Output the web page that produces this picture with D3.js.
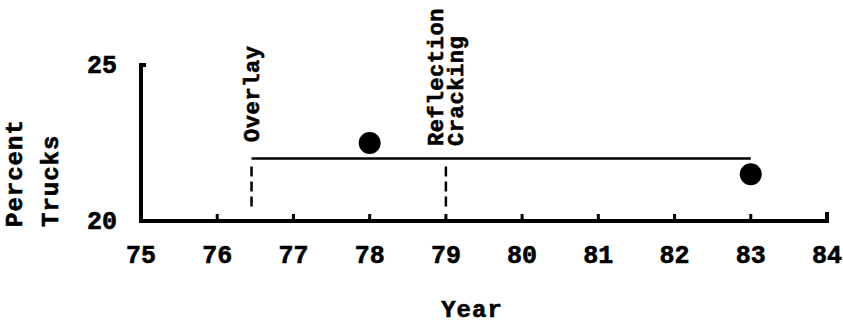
<!DOCTYPE html>
<html>
<head>
<meta charset="utf-8">
<script src="https://cdn.jsdelivr.net/npm/d3@7"></script>
<style>
  html, body { margin: 0; padding: 0; background: #fff; }
  svg text { font-family: "Liberation Mono", "Courier New", monospace; font-weight: bold; fill: #000; stroke: #000; stroke-width: 0.6px; }
</style>
</head>
<body>
<svg id="chart" width="843" height="327"></svg>
<script>
// Year axis ticks and labels
const yearTicks = [75, 76, 77, 78, 79, 80, 81, 82, 83, 84];
// Percent trucks axis ticks
const pctTicks = [20, 25];

// Measured percent trucks (dots)
const obsYears = [78, 83];
const obsPct = [22.5, 21.5];

// Assumed percent trucks over the analysis period (horizontal line)
const trendYears = [76.45, 83];
const trendPct = [22, 22];

// Event markers (dashed lines with labels)
const eventNames = [["Overlay"], ["Reflection", "Cracking"]];
const eventYears = [76.45, 79];

const svg = d3.select("#chart");
const x = d3.scaleLinear().domain([75, 84]).range([141, 827]);
const y = d3.scaleLinear().domain([20, 25]).range([221, 65]);

// Axes
svg.append("path")
  .attr("d", `M${x(75) + 5},${y(25)} H${x(75)} V${y(20)} H${x(84)} V${y(20) - 9}`)
  .attr("fill", "none").attr("stroke", "#000").attr("stroke-width", 4)
  .attr("stroke-linejoin", "miter");

// Small upward tick marks along the year axis
svg.selectAll(".xtick").data(yearTicks.filter(d => d > 75 && d < 84)).join("line")
  .attr("x1", d => x(d)).attr("x2", d => x(d))
  .attr("y1", y(20)).attr("y2", y(20) - 7)
  .attr("stroke", "#000").attr("stroke-width", 3);

svg.selectAll(".xlab").data(yearTicks).join("text")
  .attr("x", d => x(d)).attr("y", 263)
  .attr("text-anchor", "middle").attr("font-size", 25)
  .text(d => d);

svg.selectAll(".ylab").data(pctTicks).join("text")
  .attr("x", 117).attr("y", d => y(d) + 8)
  .attr("text-anchor", "end").attr("font-size", 25)
  .text(d => d);

// Axis titles
const yTitle = ["Percent", "Trucks"];
svg.selectAll(".ytitle").data(yTitle).join("text")
  .attr("transform", (d, i) => `translate(${22 + i * 36},227) rotate(-90)`)
  .attr("font-size", 24).attr("letter-spacing", 1)
  .text(d => d);

svg.append("text")
  .attr("x", 472).attr("y", 317)
  .attr("text-anchor", "middle").attr("font-size", 24).attr("letter-spacing", 1)
  .text("Year");

// Horizontal trend line
svg.append("line")
  .attr("x1", x(trendYears[0])).attr("x2", x(trendYears[1]))
  .attr("y1", y(trendPct[0])).attr("y2", y(trendPct[1]))
  .attr("stroke", "#000").attr("stroke-width", 2.5);

// Event dashed lines below the trend line
svg.selectAll(".evline").data(eventYears).join("line")
  .attr("x1", d => x(d)).attr("x2", d => x(d))
  .attr("y1", y(22) + 8).attr("y2", y(20) - 14)
  .attr("stroke", "#000").attr("stroke-width", 2.5)
  .attr("stroke-dasharray", "10,5");

// Event labels, rotated
eventNames.forEach((lines, i) => {
  const cx = x(eventYears[i]);
  const n = lines.length;
  lines.forEach((t, j) => {
    const off = (j - (n - 1) / 2) * 20;
    svg.append("text")
      .attr("transform", `translate(${cx + off + 7},${n > 1 ? 146 : 142}) rotate(-90)`)
      .attr("font-size", 22).attr("letter-spacing", 0.6)
      .text(t);
  });
});

// Observed points
svg.selectAll(".dot").data(obsYears).join("circle")
  .attr("cx", d => x(d)).attr("cy", (d, i) => y(obsPct[i]))
  .attr("r", 11).attr("fill", "#000");
</script>
</body>
</html>
